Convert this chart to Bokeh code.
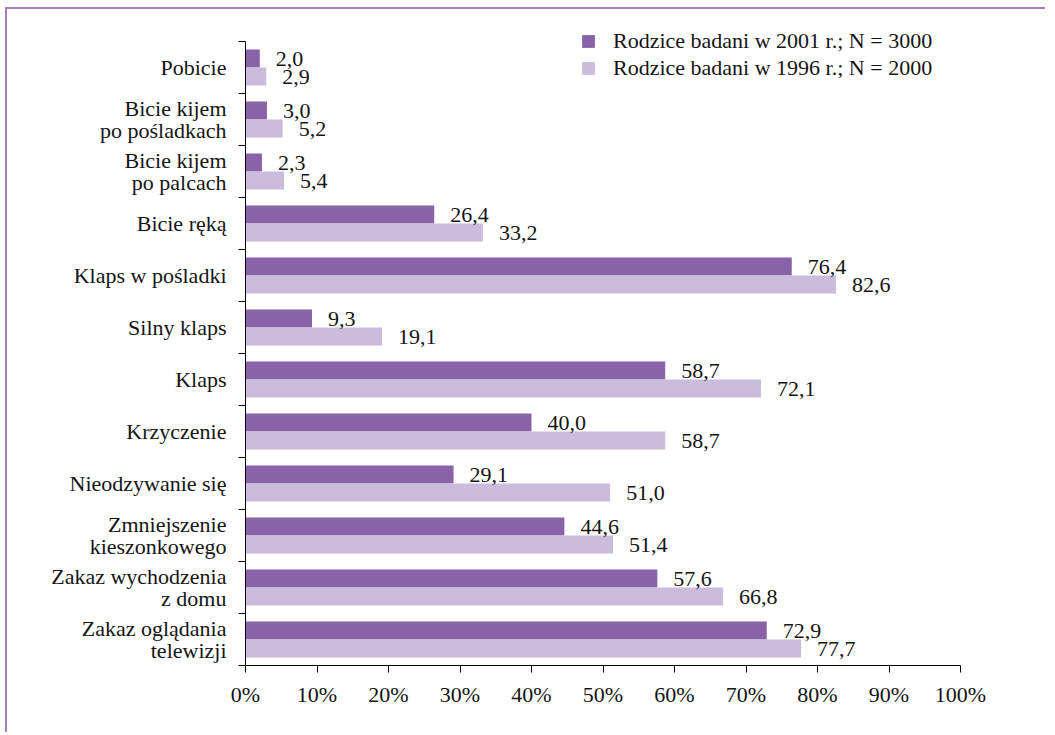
from bokeh.plotting import figure
from bokeh.models import Range1d, FixedTicker, PrintfTickFormatter, Legend, LegendItem, LinearAxis
from bokeh.embed import file_html
from bokeh.resources import INLINE
from bokeh.core.properties import value

categories = [
    "Pobicie",
    "Bicie kijem\npo pośladkach",
    "Bicie kijem\npo palcach",
    "Bicie ręką",
    "Klaps w pośladki",
    "Silny klaps",
    "Klaps",
    "Krzyczenie",
    "Nieodzywanie się",
    "Zmniejszenie\nkieszonkowego",
    "Zakaz wychodzenia\nz domu",
    "Zakaz oglądania\ntelewizji",
]
values_2001 = [2.0, 3.0, 2.3, 26.4, 76.4, 9.3, 58.7, 40.0, 29.1, 44.6, 57.6, 72.9]
values_1996 = [2.9, 5.2, 5.4, 33.2, 82.6, 19.1, 72.1, 58.7, 51.0, 51.4, 66.8, 77.7]
series_names = ["Rodzice badani w 2001 r.; N = 3000", "Rodzice badani w 1996 r.; N = 2000"]
x_ticks = [0, 10, 20, 30, 40, 50, 60, 70, 80, 90, 100]

DARK = "#8a62a8"
LIGHT = "#cbbcdd"
FONT = "Liberation Serif"
FS = "22px"
TXT = "#141414"

n = len(categories)
centers = [n - i - 0.5 for i in range(n)]
bar_h = 0.346
y_dark = [c + bar_h / 2 for c in centers]
y_light = [c - bar_h / 2 for c in centers]
extra_top = 21 / 52

p = figure(width=1040, height=725, output_backend="svg", toolbar_location=None,
           x_range=Range1d(0, 100), y_range=Range1d(0, n + extra_top),
           min_border_left=238, min_border_right=87, min_border_top=11, min_border_bottom=69,
           x_axis_location=None, y_axis_location=None)
p.styles = {"border-top": "2px solid #a27fbb", "border-left": "2px solid #a27fbb",
            "margin-left": "5px", "margin-top": "7px"}
p.outline_line_color = None
p.grid.visible = False
p.background_fill_color = "white"
p.border_fill_color = "white"

r1 = p.hbar(y=y_dark, right=values_2001, left=0, height=bar_h, fill_color=DARK, line_color=None)
r2 = p.hbar(y=y_light, right=values_1996, left=0, height=bar_h, fill_color=LIGHT, line_color=None)

lab_d = [f"{v:.1f}".replace(".", ",") for v in values_2001]
lab_l = [f"{v:.1f}".replace(".", ",") for v in values_1996]
p.text(x=values_2001, y=y_dark, text=lab_d, x_offset=16, y_offset=0, text_align="left",
       text_baseline="middle", text_font=value(FONT), text_font_size=FS, text_color=TXT)
p.text(x=values_1996, y=y_light, text=lab_l, x_offset=16, y_offset=1, text_align="left",
       text_baseline="middle", text_font=value(FONT), text_font_size=FS, text_color=TXT)

xa = LinearAxis(ticker=FixedTicker(ticks=x_ticks, minor_ticks=[]),
                formatter=PrintfTickFormatter(format="%d%%"))
xa.major_tick_in = 0
xa.major_tick_out = 7
xa.major_tick_line_color = "black"
xa.axis_line_color = "black"
xa.major_label_standoff = 9
xa.major_label_text_font = FONT
xa.major_label_text_font_size = FS
xa.major_label_text_color = TXT
p.add_layout(xa, "below")

ya = LinearAxis(ticker=FixedTicker(ticks=centers, minor_ticks=list(range(0, n + 1))),
                bounds=(0, n))
ya.major_label_overrides = {c: lab for c, lab in zip(centers, categories)}
ya.major_tick_line_color = None
ya.major_tick_in = 0
ya.major_tick_out = 0
ya.minor_tick_in = 0
ya.minor_tick_out = 7
ya.minor_tick_line_color = "black"
ya.axis_line_color = "black"
ya.major_label_standoff = 12
ya.major_label_text_font = FONT
ya.major_label_text_font_size = FS
ya.major_label_text_color = TXT
ya.major_label_text_align = "right"
ya.major_label_text_line_height = 0.88
p.add_layout(ya, "left")

legend = Legend(items=[LegendItem(label=series_names[0], renderers=[r1]),
                       LegendItem(label=series_names[1], renderers=[r2])],
                location=(335, 584), orientation="vertical")
legend.padding = 0
legend.margin = 0
legend.spacing = 1
legend.glyph_width = 16
legend.glyph_height = 16
legend.label_standoff = 17
legend.label_text_font = FONT
legend.label_text_font_size = FS
legend.label_text_color = TXT
legend.background_fill_alpha = 0
legend.border_line_color = None
p.add_layout(legend, "center")

open("out.html", "w").write(file_html(p, INLINE))
